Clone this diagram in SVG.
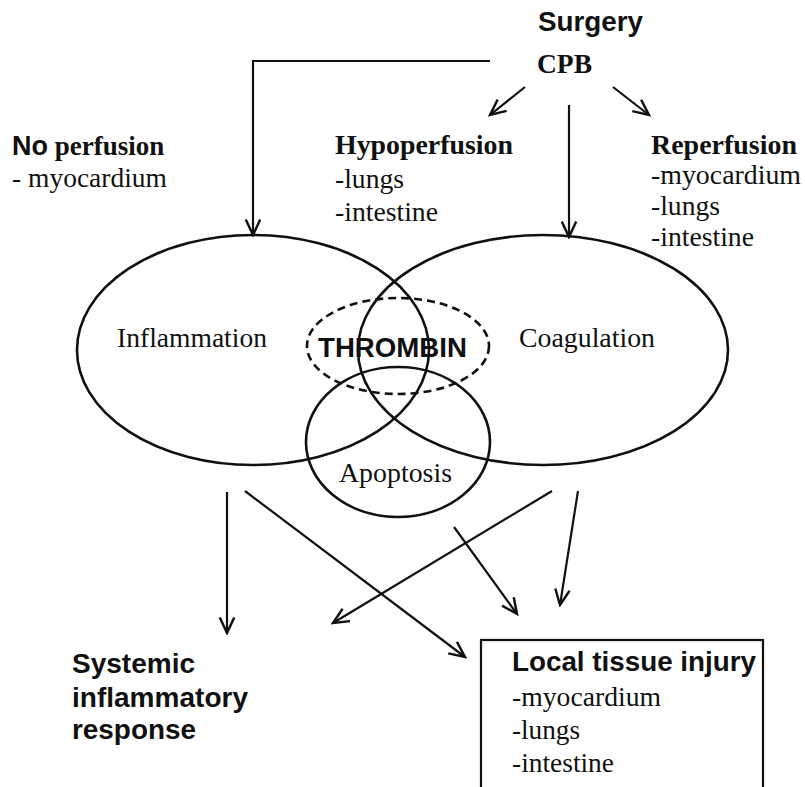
<svg xmlns="http://www.w3.org/2000/svg" width="805" height="787" viewBox="0 0 805 787">
<style>
.sans{font-family:"Liberation Sans",Arial,sans-serif;font-weight:bold;font-size:27px;fill:#111}
.serif{font-family:"Liberation Serif","Times New Roman",serif;font-size:27px;fill:#111}
.serifb{font-family:"Liberation Serif","Times New Roman",serif;font-weight:bold;font-size:27px;fill:#111}
.shape{fill:none;stroke:#111;stroke-width:2.6}
.dash{fill:none;stroke:#111;stroke-width:2.6;stroke-dasharray:8 5}
.conn{fill:none;stroke:#111;stroke-width:2.2;marker-end:url(#arr)}
</style>
<defs>
<marker id="arr" markerUnits="userSpaceOnUse" markerWidth="20" markerHeight="20" viewBox="-16 -8 18 16" refX="0" refY="0" orient="auto">
<path d="M-14,-6.5 L0,0 L-14,6.5" fill="none" stroke="#111" stroke-width="2.2"/>
</marker>
</defs>
<rect width="805" height="787" fill="#fff"/>
<g id="surgery"><text class="sans" x="538" y="31" textLength="105" lengthAdjust="spacingAndGlyphs">Surgery</text></g>
<g id="cpb"><text class="serifb" x="537" y="73" textLength="55" lengthAdjust="spacingAndGlyphs">CPB</text></g>
<g id="no-perfusion">
<text x="12" y="155"><tspan class="sans" font-size="27">No</tspan><tspan class="serifb" font-size="27"> perfusion</tspan></text>
<text class="serif" x="12" y="187" textLength="155" lengthAdjust="spacingAndGlyphs">- myocardium</text>
</g>
<g id="hypoperfusion">
<text class="serifb" x="335" y="154" textLength="178" lengthAdjust="spacingAndGlyphs">Hypoperfusion</text>
<text class="serif" x="335" y="188" textLength="69" lengthAdjust="spacingAndGlyphs">-lungs</text>
<text class="serif" x="335" y="221" textLength="103" lengthAdjust="spacingAndGlyphs">-intestine</text>
</g>
<g id="reperfusion">
<text class="serifb" x="651" y="154" textLength="146" lengthAdjust="spacingAndGlyphs">Reperfusion</text>
<text class="serif" x="651" y="184" textLength="150" lengthAdjust="spacingAndGlyphs">-myocardium</text>
<text class="serif" x="651" y="215" textLength="69" lengthAdjust="spacingAndGlyphs">-lungs</text>
<text class="serif" x="651" y="246" textLength="103" lengthAdjust="spacingAndGlyphs">-intestine</text>
</g>
<g id="inflammation">
<ellipse class="shape" cx="253" cy="350" rx="176" ry="115"/>
<text class="serif" x="117" y="347" textLength="150" lengthAdjust="spacingAndGlyphs">Inflammation</text>
</g>
<g id="coagulation">
<ellipse class="shape" cx="543" cy="350" rx="185" ry="115"/>
<text class="serif" x="519" y="347" textLength="136" lengthAdjust="spacingAndGlyphs">Coagulation</text>
</g>
<g id="thrombin">
<ellipse class="dash" cx="398" cy="346" rx="91" ry="48"/>
<text class="sans" x="318" y="357" textLength="149" lengthAdjust="spacingAndGlyphs">THROMBIN</text>
</g>
<g id="apoptosis">
<ellipse class="shape" cx="398" cy="442" rx="92" ry="75"/>
<text class="serif" x="339" y="482" textLength="113" lengthAdjust="spacingAndGlyphs">Apoptosis</text>
</g>
<g id="systemic">
<text class="sans" x="72" y="673" textLength="123" lengthAdjust="spacingAndGlyphs">Systemic</text>
<text class="sans" x="72" y="707" textLength="176" lengthAdjust="spacingAndGlyphs">inflammatory</text>
<text class="sans" x="72" y="739" textLength="124" lengthAdjust="spacingAndGlyphs">response</text>
</g>
<g id="local-injury">
<rect x="481" y="640" width="282" height="170" fill="none" stroke="#111" stroke-width="2.2"/>
<text class="sans" x="512" y="671" textLength="244" lengthAdjust="spacingAndGlyphs">Local tissue injury</text>
<text class="serif" x="512" y="706" textLength="149" lengthAdjust="spacingAndGlyphs">-myocardium</text>
<text class="serif" x="512" y="739" textLength="68" lengthAdjust="spacingAndGlyphs">-lungs</text>
<text class="serif" x="512" y="772" textLength="102" lengthAdjust="spacingAndGlyphs">-intestine</text>
</g>
<g id="connectors">
<polyline class="conn" points="490,61 253,61 253,235"/>
<line class="conn" x1="525" y1="87" x2="490" y2="115"/>
<line class="conn" x1="613" y1="87" x2="649" y2="115"/>
<line class="conn" x1="569" y1="105" x2="569" y2="237"/>
<line class="conn" x1="227" y1="492" x2="227" y2="633"/>
<line class="conn" x1="245" y1="491" x2="465" y2="657"/>
<line class="conn" x1="552" y1="491" x2="333" y2="623"/>
<line class="conn" x1="454" y1="527" x2="517" y2="614"/>
<line class="conn" x1="578" y1="491" x2="560" y2="605"/>
</g>
</svg>
